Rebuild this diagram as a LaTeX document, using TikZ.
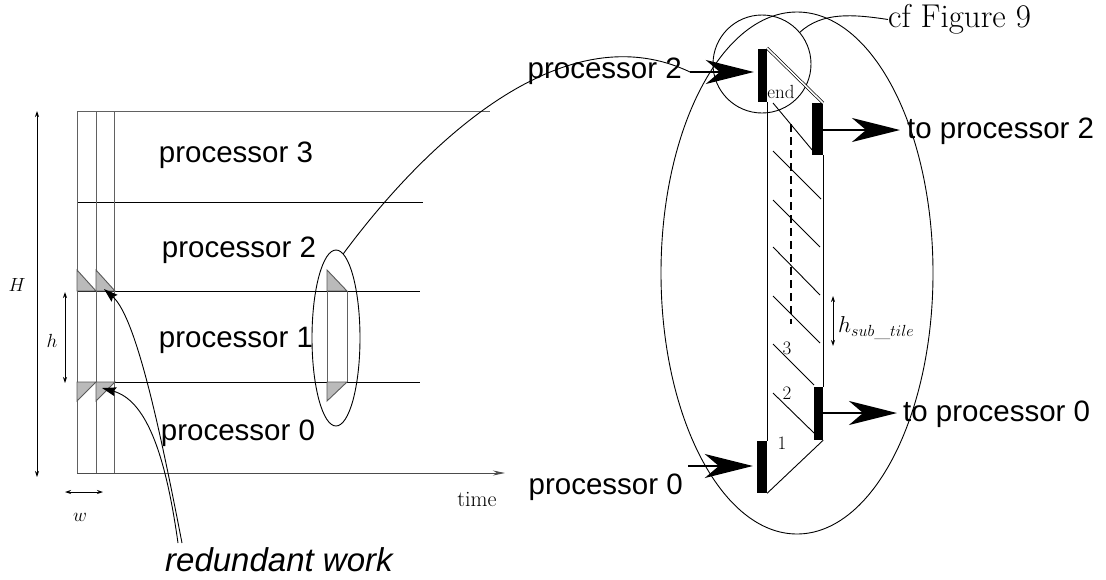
\RequirePackage{fix-cm}
\documentclass[tikz,border=0pt]{standalone}
\usepackage{fontspec}
\newfontfamily\labelfont{Liberation Sans}
\usetikzlibrary{arrows.meta,shapes.geometric}

\begin{document}
\begin{tikzpicture}[x=1pt,y=-1pt,
  thinline/.style={line width=0.9pt},
  frameline/.style={line width=1pt, draw=black!62},
  sepline/.style={line width=1pt, draw=black},
  redtri/.style={fill=black!27, draw=black!65, line width=0.9pt},
  proclabel/.style={font=\labelfont\fontsize{29.5}{34}\selectfont, inner sep=0pt},
  worklabel/.style={font=\labelfont\itshape\fontsize{33}{38}\selectfont, inner sep=0pt},
  mathlabel/.style={inner sep=0pt, font=\fontsize{19}{22}\selectfont},
  tilelabel/.style={inner sep=0pt, font=\fontsize{19}{22}\selectfont},
  dimarrow/.style={line width=0.8pt, {Stealth[length=6pt,width=4pt]}-{Stealth[length=6pt,width=4pt]}},
  bar/.style={fill=black, draw=none, inner sep=0pt, rectangle},
  bigarrow/.style={line width=2.6pt, -{Stealth[length=48pt,width=24pt,inset=14pt]}},
  workarrow/.style={line width=0.9pt, -{Stealth[length=14pt,width=9pt,inset=2pt,line width=1.2pt]}},
  zoomring/.style={draw, thinline, ellipse, inner sep=0pt}
]
\useasboundingbox (0,0) rectangle (1106,579);

% ---------- tiled space-time domain ----------
\draw[frameline] (77,111) -- (490,111);
\draw[sepline] (77,202) -- (423,202);
\draw[sepline] (77,291) -- (420,291);
\draw[sepline] (77,382) -- (420,382);
\foreach \x in {77,96,114} \draw[frameline] (\x,111) -- (\x,473);
\coordinate (origin) at (77,473);
\coordinate (timeend) at (505,473);
\draw[line width=1pt, draw=black!70, -{Stealth[length=12pt,width=5pt]}] (origin) -- (timeend);

% redundant triangles at the processor boundaries
\draw[redtri] (77,270) -- (77,291) -- (96,291) -- cycle;
\draw[redtri] (96,270) -- (96,291) -- (115,291) -- cycle;
\draw[redtri] (77,382) -- (96,382) -- (77,401) -- cycle;
\draw[redtri] (96,382) -- (115,382) -- (96,401) -- cycle;

% processor tile selected for the close-up
\draw[frameline] (327,270) -- (327,401);
\draw[frameline] (347,291) -- (347,382);
\draw[redtri] (327,270) -- (327,291) -- (347,291) -- cycle;
\draw[redtri] (327,382) -- (347,382) -- (327,401) -- cycle;
\node[zoomring, minimum width=48pt, minimum height=176pt] (zoomA) at (336,338) {};

\node[proclabel] (p3) at (236,155) {processor 3};
\node[proclabel] (p2) at (239,250) {processor 2};
\node[proclabel] (p1) at (236,340) {processor 1};
\node[proclabel] (p0) at (238,433) {processor 0};

% dimensions
\coordinate (Htop) at (37,111);
\coordinate (Hbot) at (37,477);
\draw[dimarrow] (Htop) -- (Hbot);
\node[mathlabel] (Hlab) at (17,285) {$H$};
\coordinate (htop) at (65,292);
\coordinate (hbot) at (65,383);
\draw[dimarrow] (htop) -- (hbot);
\node[mathlabel] (hlab) at (52,341) {$h$};
\coordinate (wl) at (65,492);
\coordinate (wr) at (103,492);
\draw[dimarrow] (wl) -- (wr);
\node[mathlabel] (wlab) at (80,517) {$w$};
\node[inner sep=0pt, font=\fontsize{22}{25}\selectfont] (time) at (477,499) {time};

% redundant work pointers
\node[worklabel, anchor=west] (work) at (165,560) {redundant work};
\coordinate (rw1) at (182,543);
\coordinate (rw2) at (178,543);
\coordinate (tri2) at (104,289);
\coordinate (tri4) at (102,388);
\draw[workarrow] (rw1) .. controls (162,440) and (137,318) .. (tri2);
\draw[workarrow] (rw2) .. controls (165,450) and (145,400) .. (tri4);

% ---------- close-up of one tile ----------
\node[zoomring, minimum width=272pt, minimum height=522pt] (zoomB) at (797,273) {};
\node[draw, thinline, circle, minimum size=98pt, inner sep=0pt] (fig9) at (762,64) {};
\node[inner sep=0pt, anchor=west, font=\fontsize{33}{37}\selectfont] (cf) at (888,19.5) {cf Figure 9};
\draw[thinline] (fig9.40) .. controls (822,12) and (852,14) .. (cf.west);

% communication buffers
\node[bar, minimum width=9pt, minimum height=53pt] (barA) at (762.5,75.5) {};
\node[bar, minimum width=11pt, minimum height=52pt] (barB) at (817.5,129) {};
\node[bar, minimum width=9pt, minimum height=53pt] (barC) at (818.5,413.5) {};
\node[bar, minimum width=10pt, minimum height=52pt] (barD) at (762,467) {};

% tile outline
\draw[thinline] (barA.south east) -- (barD.north east);
\draw[thinline] (barB.south east) -- (barC.north east);
\draw[line width=0.7pt, double, double distance=1.6pt] (767,48) -- (823,103);
\draw[thinline] (barC.south east) -- (barD.south east);

% sub-tiles
\draw[thinline] (773,103) -- (813,151);
\draw[thinline] (773,151) -- (821,199);
\draw[thinline] (773,200) -- (820,247);
\draw[thinline] (773,247) -- (820,295);
\draw[thinline] (773,296) -- (820,343);
\draw[thinline] (773,344) -- (814,385);
\draw[thinline] (773,393) -- (814,433);
\draw[line width=2pt, dash pattern=on 8pt off 5pt] (791,124) -- (791,324);

\node[tilelabel] (lend) at (781,92) {end};
\node[tilelabel] (l3) at (787,348) {3};
\node[tilelabel] (l2) at (787,393) {2};
\node[tilelabel] (l1) at (782,443) {1};

\coordinate (sttop) at (833,296);
\coordinate (stbot) at (833,346);
\draw[dimarrow] (sttop) -- (stbot);
\node[inner sep=0pt, anchor=west, font=\fontsize{23}{26}\selectfont] (hst) at (838,328) {$h_{sub\_tile}$};

% incoming and outgoing messages
\node[proclabel, anchor=east] (in2) at (682,71) {processor 2};
\node[proclabel, anchor=east] (in0) at (683,487) {processor 0};
\node[proclabel, anchor=west] (out2) at (907,131) {to processor 2};
\node[proclabel, anchor=west] (out0) at (903,414) {to processor 0};
\coordinate (in2s) at (690,72);
\coordinate (in0s) at (688,466);
\coordinate (out2e) at (900,130);
\coordinate (out0e) at (897,413);
\draw[bigarrow, shorten >=4pt] (in2s) -- (in2s -| barA.west);
\draw[bigarrow, shorten >=4pt] (in0s) -- (in0s -| barD.west);
\draw[bigarrow] (barB.east |- out2e) -- (out2e);
\draw[bigarrow] (barC.east |- out0e) -- (out0e);

% link from the selected tile to its close-up
\draw[thinline] (zoomA.85) .. controls (420,150) and (560,10) .. (in2s);
\end{tikzpicture}
\end{document}
